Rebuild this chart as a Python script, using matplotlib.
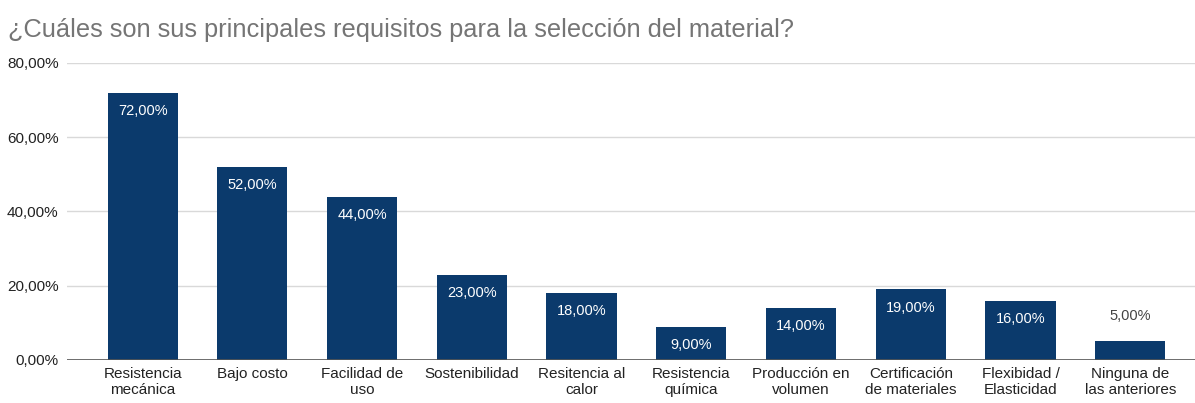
import matplotlib.pyplot as plt
import numpy as np

categorias = ["Resistencia\nmecánica", "Bajo costo", "Facilidad de\nuso", "Sostenibilidad",
              "Resitencia al\ncalor", "Resistencia\nquímica", "Producción en\nvolumen",
              "Certificación\nde materiales", "Flexibidad /\nElasticidad", "Ninguna de\nlas anteriores"]
porcentajes = [72, 52, 44, 23, 18, 9, 14, 19, 16, 5]
yticks = [0, 20, 40, 60, 80]

plt.rcParams['font.family'] = ['Liberation Sans', 'DejaVu Sans']

fig = plt.figure(figsize=(11.95, 4.03), dpi=100)
ax = fig.add_axes([0.056, 0.1067, 0.944, 0.737])

x = np.arange(len(categorias))
color_barra = "#0b3a6c"
ax.bar(x, porcentajes, width=0.64, color=color_barra, zorder=3)

def fmt(v):
    return f"{v:.2f}".replace(".", ",") + "%"

for xi, v in zip(x, porcentajes):
    if v >= 8:
        ax.annotate(fmt(v), (xi, v), xytext=(0, -13), textcoords="offset points",
                    ha="center", va="center", color="white", fontsize=10.5, zorder=4)
    else:
        ax.annotate(fmt(v), (xi, v), xytext=(0, 18), textcoords="offset points",
                    ha="center", va="center", color="#444444", fontsize=10.5, zorder=4)

ax.set_xlim(-0.69, 9.59)
ax.set_ylim(0, 80)
ax.set_yticks(yticks)
ax.set_yticklabels([fmt(t) for t in yticks], fontsize=11, color="#222222")
ax.set_xticks(x)
ax.set_xticklabels(categorias, fontsize=11, color="#222222", linespacing=1.15)
ax.tick_params(axis="y", length=0, pad=6)
ax.tick_params(axis="x", length=0, pad=5)
ax.grid(axis="y", color="#d9d9d9", linewidth=1, zorder=0)
ax.axhline(0, color="#555555", linewidth=1.2, zorder=4)
for s in ax.spines.values():
    s.set_visible(False)

fig.text(0.007, 0.925, "¿Cuáles son sus principales requisitos para la selección del material?",
         fontsize=18.3, color="#757575", ha="left", va="center")

fig.savefig("out.png", dpi=100)
